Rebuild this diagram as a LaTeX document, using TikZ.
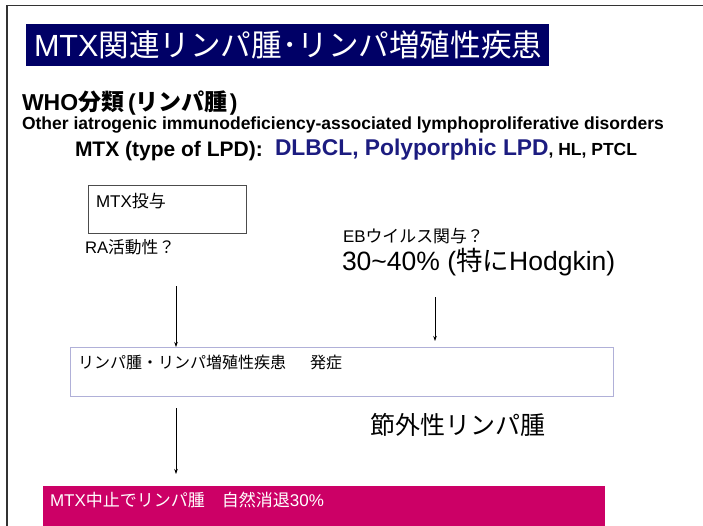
\documentclass[tikz,border=0pt]{standalone}
\usepackage{fontspec}
\setmainfont{Liberation Sans}
\newfontfamily\cjk{Noto Sans CJK JP}
\newcommand\jpn[1]{{\cjk #1}}
\usetikzlibrary{arrows.meta}
\definecolor{navy}{HTML}{000066}
\definecolor{dkblue}{HTML}{1C1C80}
\definecolor{pinkbox}{HTML}{CC0066}
\definecolor{lavender}{HTML}{B0B0D8}
\tikzset{
  txt/.style={anchor=west,inner sep=0pt,outer sep=0pt},
  arr/.style={draw=black,line width=0.6pt,-{Stealth[length=5pt,width=3.5pt]}},
}
\begin{document}
\begin{tikzpicture}[x=1pt,y=-1pt]
\useasboundingbox (0,0) rectangle (703,526);
% frame
\draw[line width=1.2pt,black!80] (7,526) -- (7,5.5) -- (703,5.5);
% title
\node[fill=navy,anchor=north west,minimum width=523pt,minimum height=42pt,inner sep=0pt] (titlebox) at (26,24) {};
\node[txt,text=white,font=\fontsize{30.6}{33}\selectfont] (title) at (34,45) {MTX\jpn{関連リンパ腫･リンパ増殖性疾患}};
% WHO
\node[txt,font=\bfseries\fontsize{23}{26}\selectfont] (who) at (22,103) {WHO\jpn{分類}\kern4pt(\jpn{リンパ腫}\kern2pt)};
\node[txt,font=\bfseries\fontsize{17.5}{20}\selectfont] (other) at (22,125) {Other iatrogenic immunodeficiency-associated lymphoproliferative disorders};
\node[txt,font=\bfseries\fontsize{21}{24}\selectfont] (mtxtype) at (75,151) {MTX (type of LPD):};
\node[txt,font=\bfseries\fontsize{22.8}{26}\selectfont,text=dkblue] (dlbcl) at (275,150) {DLBCL, Polyporphic LPD};
\node[txt,font=\bfseries\fontsize{17.5}{20}\selectfont,anchor=base west] (hl) at (dlbcl.base east) {, HL, PTCL};
% MTX box
\node[draw=black!70,line width=0.8pt,anchor=north west,inner sep=0pt,minimum width=158pt,minimum height=48pt] (mtxbox) at (88,185) {};
\node[txt,font=\fontsize{17}{19}\selectfont] (mtxt) at (96,201) {MTX\jpn{投与}};
\node[txt,font=\fontsize{16.7}{19}\selectfont] (ra) at (85,247) {RA\jpn{活動性？}};
% EB
\node[txt,font=\fontsize{16.9}{19}\selectfont] (eb) at (343,236) {EB\jpn{ウイルス関与？}};
\node[txt,font=\fontsize{26.5}{30}\selectfont] (pct) at (342,262) {30\textasciitilde40\% (\jpn{特に}Hodgkin)};
% onset box
\node[draw=lavender,line width=1pt,anchor=north west,inner sep=0pt,minimum width=543pt,minimum height=49pt] (onset) at (70,347) {};
\node[txt,font=\fontsize{16}{18}\selectfont] (onsett) at (78,362) {\jpn{リンパ腫・リンパ増殖性疾患\hspace{1.5em}発症}};
\node[txt,font=\fontsize{25}{28}\selectfont] (extra) at (370,425) {\jpn{節外性リンパ腫}};
% pink box
\node[fill=pinkbox,anchor=north west,inner sep=0pt,minimum width=562pt,minimum height=45pt] (stop) at (43,486) {};
\node[txt,text=white,font=\fontsize{17}{19}\selectfont] (stopt) at (50,500) {MTX\jpn{中止でリンパ腫\hspace{1em}自然消退}30\%};
% arrows
\coordinate (a1) at (176,286);
\coordinate (a2) at (435,297);
\coordinate (a3) at (176,408);
\draw[arr] (a1) -- (a1 |- onset.north);
\draw[arr] (a2) -- ([yshift=6pt]a2 |- onset.north);
\draw[arr] (a3) -- ([yshift=12pt]a3 |- stop.north);
\end{tikzpicture}
\end{document}
